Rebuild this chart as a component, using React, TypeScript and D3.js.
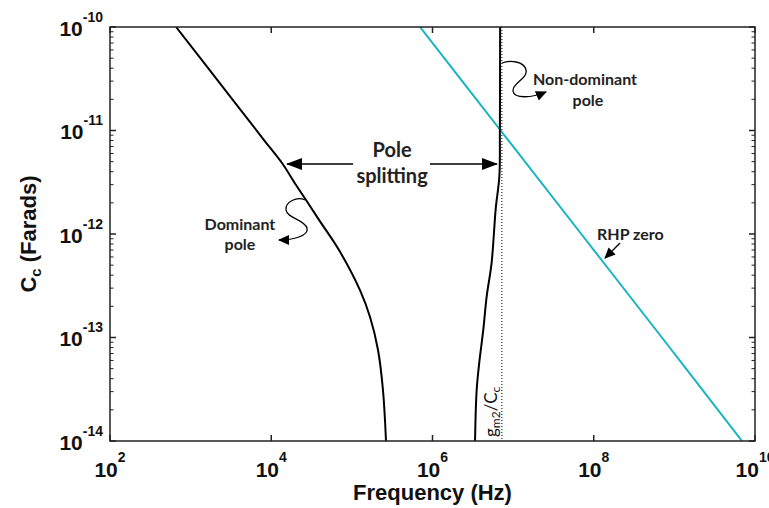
import React, { useEffect } from 'react';
import * as d3 from 'd3';

const W = 769;
const H = 508;
const margin = { left: 110, right: 14, top: 27, bottom: 67 };

// axes
const xDomain = [1e2, 1e10];
const yDomain = [1e-14, 1e-10];
const xTickExps = [2, 4, 6, 8, 10];
const yTickExps = [-14, -13, -12, -11, -10];

// dominant pole (Hz) vs compensation cap (F)
const dominantFreq = [660, 3.35e3, 8.13e3, 1.36e4, 2.03e4, 2.7e4, 3.91e4, 6.92e4, 1.26e5, 1.68e5, 2.11e5, 2.43e5, 2.65e5];
const dominantCc = [1e-10, 1.97e-11, 8.09e-12, 4.85e-12, 2.97e-12, 2.13e-12, 1.37e-12, 7.0e-13, 2.87e-13, 1.58e-13, 7.57e-14, 3.11e-14, 1e-14];

// non-dominant pole
const nonDominantFreq = [6.9e6, 6.85e6, 6.75e6, 6.1e6, 5.4e6, 4.7e6, 4.27e6, 3.8e6, 3.53e6, 3.37e6];
const nonDominantCc = [1e-10, 1e-11, 3.6e-12, 1.8e-12, 5.2e-13, 2.5e-13, 1.2e-13, 5.7e-14, 3.1e-14, 1e-14];

// RHP zero
const rhpFreq = [7.0e5, 7.0e6, 7.0e7, 7.0e8, 6.9e9];
const rhpCc = [1e-10, 1e-11, 1e-12, 1e-13, 1e-14];

// gm2/Cc asymptote
const gmOverCcFreq = 7.25e6;

// annotation anchors [freq, Cc]
const splitLeftTip = [1.57e4, 4.74e-12];
const splitRightTip = [6.3e6, 4.74e-12];
const splitTextAt = [3.15e5, 4.74e-12];
const nonDomAnchor = [7.28e6, 4.49e-11];
const domAnchor = [2.62e4, 2.13e-12];
const rhpTip = [1.38e8, 5.86e-13];

const annFont = 'Lato, "Open Sans", sans-serif';
const axisFont = '"Liberation Sans", Arial, sans-serif';

export default function App() {
  useEffect(() => {
    document.body.style.margin = '0';
  }, []);

  const x = d3.scaleLog().domain(xDomain).range([margin.left, W - margin.right]);
  const y = d3.scaleLog().domain(yDomain).range([H - margin.bottom, margin.top]);

  const [x0, x1] = x.range();
  const [y0, y1] = y.range();

  const line = d3
    .line<[number, number]>()
    .x(d => x(d[0]))
    .y(d => y(d[1]))
    .curve(d3.curveCatmullRom.alpha(0.5));

  const zip = (a: number[], b: number[]) => a.map((v, i) => [v, b[i]] as [number, number]);

  const yMinor = y.ticks().filter(v => Math.abs(Math.log10(v) - Math.round(Math.log10(v))) > 1e-6);

  const px = (p: number[]) => [x(p[0]), y(p[1])];
  const [lx, ly] = px(splitLeftTip);
  const [rx] = px(splitRightTip);
  const [tx] = px(splitTextAt);
  const [nx, ny] = px(nonDomAnchor);
  const [dx, dy] = px(domAnchor);
  const [zx, zy] = px(rhpTip);
  const gx = x(gmOverCcFreq);

  return (
    <svg width={W} height={H} style={{ display: 'block', background: '#fff' }}>
      <defs>
        <marker id="bigHead" viewBox="0 0 16 12" refX="15" refY="6" markerWidth="16" markerHeight="12"
          orient="auto" markerUnits="userSpaceOnUse">
          <path d="M0,0 L16,6 L0,12 Z" fill="#000" />
        </marker>
        <marker id="smallHead" viewBox="0 0 11 10" refX="10" refY="5" markerWidth="11" markerHeight="10"
          orient="auto" markerUnits="userSpaceOnUse">
          <path d="M0,0 L11,5 L0,10 Z" fill="#000" />
        </marker>
        <clipPath id="plot">
          <rect x={x0} y={y1} width={x1 - x0} height={y0 - y1} />
        </clipPath>
      </defs>

      {/* curves */}
      <g clipPath="url(#plot)" fill="none">
        <line x1={gx} x2={gx} y1={y1} y2={y0} stroke="#000" strokeWidth={1} strokeDasharray="1,2" />
        <path d={line(zip(rhpFreq, rhpCc)) || ''} stroke="#17b4c0" strokeWidth={2} />
        <path d={line(zip(dominantFreq, dominantCc)) || ''} stroke="#000" strokeWidth={2} />
        <path d={line(zip(nonDominantFreq, nonDominantCc)) || ''} stroke="#000" strokeWidth={2} />
      </g>

      {/* frame + ticks */}
      <g stroke="#222" strokeWidth={1.5}>
        <rect x={x0} y={y1} width={x1 - x0} height={y0 - y1} fill="none" />
        {xTickExps.map(e => (
          <g key={'xt' + e}>
            <line x1={x(10 ** e)} x2={x(10 ** e)} y1={y0} y2={y0 - 6} />
            <line x1={x(10 ** e)} x2={x(10 ** e)} y1={y1} y2={y1 + 6} />
          </g>
        ))}
        {yTickExps.map(e => (
          <g key={'yt' + e}>
            <line x1={x0} x2={x0 + 6} y1={y(10 ** e)} y2={y(10 ** e)} />
            <line x1={x1} x2={x1 - 6} y1={y(10 ** e)} y2={y(10 ** e)} />
          </g>
        ))}
        {yMinor.map((v, i) => (
          <g key={'ym' + i} strokeWidth={1}>
            <line x1={x0} x2={x0 + 3.5} y1={y(v)} y2={y(v)} />
            <line x1={x1} x2={x1 - 3.5} y1={y(v)} y2={y(v)} />
          </g>
        ))}
      </g>

      {/* tick labels */}
      <g fontFamily={axisFont} fontWeight="bold" fill="#111">
        {xTickExps.map(e => (
          <text key={'xl' + e} x={x(10 ** e)} y={y0 + 36} textAnchor="middle" fontSize={21}>
            10<tspan fontSize={14} dy={-15}>{e}</tspan>
          </text>
        ))}
        {yTickExps.map(e => (
          <text key={'yl' + e} x={x0 - 7} y={y(10 ** e) + 8.5} textAnchor="end" fontSize={21}>
            10<tspan fontSize={14} dy={-14}>{e}</tspan>
          </text>
        ))}
        <text x={(x0 + x1) / 2} y={500} textAnchor="middle" fontSize={22}>Frequency (Hz)</text>
        <text transform={`translate(36,${(y0 + y1) / 2}) rotate(-90)`} textAnchor="middle" fontSize={22}>
          C<tspan fontSize={15} dy={5}>c</tspan><tspan dy={-5}> (Farads)</tspan>
        </text>
      </g>

      {/* annotations */}
      <g fontFamily={annFont} fontWeight="bold" fill="#222" stroke="none">
        <line x1={lx + 66} x2={lx} y1={ly} y2={ly} stroke="#000" strokeWidth={1.5} markerEnd="url(#bigHead)" />
        <line x1={rx - 67} x2={rx} y1={ly} y2={ly} stroke="#000" strokeWidth={1.5} markerEnd="url(#bigHead)" />
        <text x={tx} y={ly - 7} textAnchor="middle" fontSize={20}>Pole</text>
        <text x={tx} y={ly + 19} textAnchor="middle" fontSize={20}>splitting</text>

        <path
          d={`M${nx},${ny} c8,-3 22,-2 24,7 c2,9 -14,13 -13,21 c1,8 19,7 33,1`}
          fill="none" stroke="#000" strokeWidth={1.3} markerEnd="url(#smallHead)" />
        <text x={nx + 31} y={ny + 22} fontSize={16}>Non-dominant</text>
        <text x={nx + 86} y={ny + 43} textAnchor="middle" fontSize={16}>pole</text>

        <path
          d={`M${dx},${dy} c-8,-4 -20,2 -19,10 c1,8 19,10 21,18 c2,8 -14,12 -28,12`}
          fill="none" stroke="#000" strokeWidth={1.3} markerEnd="url(#smallHead)" />
        <text x={dx - 65} y={dy + 30} textAnchor="middle" fontSize={16}>Dominant</text>
        <text x={dx - 65} y={dy + 50} textAnchor="middle" fontSize={16}>pole</text>

        <line x1={zx + 15} y1={zy - 15} x2={zx} y2={zy} stroke="#000" strokeWidth={1.3} markerEnd="url(#smallHead)" />
        <text x={zx - 8} y={zy - 18} fontSize={16}>RHP zero</text>

        <text transform={`translate(${gx - 5},${y0 - 4}) rotate(-90)`} fontSize={17} fontWeight="normal" fill="#111">
          g<tspan fontSize={12} dy={3}>m2</tspan><tspan dy={-3}>/C</tspan><tspan fontSize={12} dy={3}>c</tspan>
        </text>
      </g>
    </svg>
  );
}
